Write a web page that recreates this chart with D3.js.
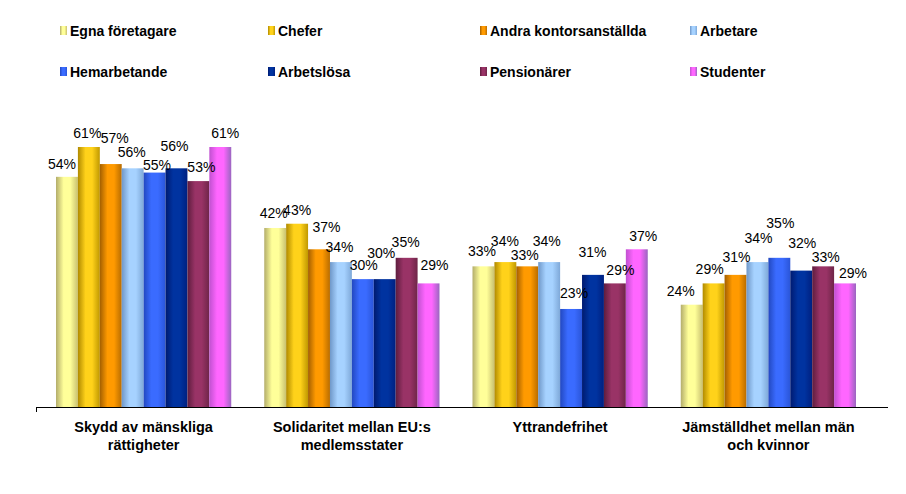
<!DOCTYPE html>
<html><head><meta charset="utf-8">
<script src="https://cdn.jsdelivr.net/npm/d3@7"></script>
<style>body{margin:0;background:#fff}svg{display:block}</style>
</head><body><svg id="c" width="906" height="494"></svg>
<script>
const categories = [["Skydd av mänskliga","rättigheter"],["Solidaritet mellan EU:s","medlemsstater"],["Yttrandefrihet"],["Jämställdhet mellan män","och kvinnor"]];
const seriesNames = ["Egna företagare","Chefer","Andra kontorsanställda","Arbetare","Hemarbetande","Arbetslösa","Pensionärer","Studenter"];
const egna = [54,42,33,24];
const chefer = [61,43,34,29];
const andra = [57,37,33,31];
const arbetare = [56,34,34,34];
const hemarbetande = [55,30,23,35];
const arbetslosa = [56,30,31,32];
const pensionarer = [53,35,29,33];
const studenter = [61,29,37,29];
const seriesValues = [egna,chefer,andra,arbetare,hemarbetande,arbetslosa,pensionarer,studenter];

// layout: label nudges [dx, dy from bar top] per series, per category (as placed in the original)
const labelNudge = [
  [[-5,-8],[-1.5,-10],[-1.5,-10],[-11,-9]],
  [[-1.5,-9],[0,-9],[-0.5,-16],[-4,-9]],
  [[4,-21],[7.5,-17],[-2.5,-6],[1,-13]],
  [[-1,-11],[-1.5,-10],[-2.5,-16],[1,-19]],
  [[2.5,-3],[1,-9],[3,-11],[1,-30]],
  [[-2,-17],[-3.5,-21],[-0.5,-18],[1,-23]],
  [[3,-9],[-1,-11],[5.5,-8],[2.5,-4]],
  [[5,-9],[6,-13],[6.5,-8],[8,-5]]
];
const colors = [
  ["#b3ad6b","#ffff99","#c8c070"],
  ["#b08a00","#ffd21a","#c09800"],
  ["#a35f00","#ff9a00","#b86c00"],
  ["#6f97c8","#a6d2ff","#7ea8d8"],
  ["#2248c0","#3a6bff","#2a55d8"],
  ["#001a70","#0033a0","#002080"],
  ["#5e1d3e","#993366","#6e2548"],
  ["#c050d0","#ff66ff","#9a66c0"]
];
const FONT = "Liberation Sans, Arial, sans-serif";

const svg = d3.select("#c");
const defs = svg.append("defs");
colors.forEach((c,i)=>{
  const g = defs.append("linearGradient").attr("id","g"+i).attr("x1","0").attr("x2","1").attr("y1","0").attr("y2","0");
  g.append("stop").attr("offset","0%").attr("stop-color",c[0]);
  g.append("stop").attr("offset","35%").attr("stop-color",c[1]);
  g.append("stop").attr("offset","65%").attr("stop-color",c[1]);
  g.append("stop").attr("offset","100%").attr("stop-color",c[2]);
});

const x0 = d3.scaleBand().domain(d3.range(categories.length)).range([56,856]).paddingInner(0.1585).paddingOuter(0);
const x1 = d3.scaleBand().domain(d3.range(seriesNames.length)).range([0,x0.bandwidth()]);
const y = d3.scaleLinear().domain([0,61]).range([407,147]);

seriesValues.forEach((vals,si)=>{
  svg.append("g").selectAll("rect").data(vals).join("rect")
    .attr("x",(d,ci)=>x0(ci)+x1(si))
    .attr("y",d=>y(d))
    .attr("width",x1.bandwidth())
    .attr("height",d=>y(0)-y(d))
    .attr("fill","url(#g"+si+")");
});
seriesValues.forEach((vals,si)=>{
  svg.append("g").selectAll("text").data(vals).join("text")
    .attr("x",(d,ci)=>x0(ci)+x1(si)+x1.bandwidth()/2+labelNudge[si][ci][0])
    .attr("y",(d,ci)=>y(d)+labelNudge[si][ci][1])
    .attr("text-anchor","middle")
    .attr("font-family",FONT)
    .attr("font-size",14)
    .attr("fill","#000")
    .text(d=>d+"%");
});

// axis
svg.append("line").attr("x1",36).attr("x2",888).attr("y1",407.5).attr("y2",407.5).attr("stroke","#000");
svg.append("line").attr("x1",36.5).attr("x2",36.5).attr("y1",407).attr("y2",412).attr("stroke","#000");

// category labels
categories.forEach((lines,ci)=>{
  const t = svg.append("text").attr("text-anchor","middle")
    .attr("font-family",FONT).attr("font-weight","bold").attr("font-size",14.5);
  lines.forEach((l,li)=>{
    t.append("tspan").attr("x",x0(ci)+x0.bandwidth()/2).attr("y",432+li*18).text(l);
  });
});

// legend
const legX = [60,268,480,690];
const legY = [36,77];
seriesNames.forEach((n,i)=>{
  const lx = legX[i%4], ly = legY[Math.floor(i/4)];
  svg.append("rect").attr("x",lx).attr("y",ly-10).attr("width",7).attr("height",9).attr("fill","url(#g"+i+")");
  svg.append("text").attr("x",lx+10).attr("y",ly)
    .attr("font-family",FONT).attr("font-weight","bold").attr("font-size",14)
    .text(n);
});
</script></body></html>
